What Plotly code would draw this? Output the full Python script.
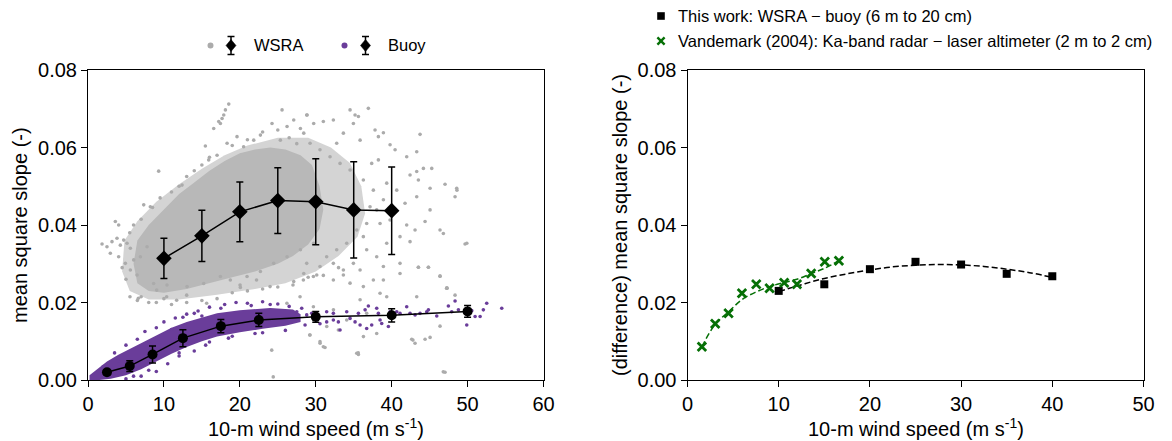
import plotly.graph_objects as go

W, H = 1172, 441
FONT = "Liberation Sans, Arial, Helvetica, sans-serif"

# ---------------- data ----------------
# WSRA scatter cloud: dense core envelope, medium-density envelope, sparse points
wsra_core_u = [6.5, 6.0, 6.5, 8.0, 10.0, 12.0, 14.0, 16.0, 18.0, 20.0, 22.0, 24.0, 26.0, 28.0, 29.5, 30.5, 31.0, 30.5, 29.0, 27.0, 25.0, 22.0, 19.0, 16.0, 13.0, 10.0, 8.0]
wsra_core_mss = [0.0250, 0.0300, 0.0360, 0.0400, 0.0440, 0.0480, 0.0510, 0.0540, 0.0565, 0.0585, 0.0595, 0.0600, 0.0595, 0.0580, 0.0555, 0.0500, 0.0440, 0.0390, 0.0350, 0.0320, 0.0300, 0.0280, 0.0265, 0.0250, 0.0235, 0.0225, 0.0230]
wsra_mid_u = [4.5, 4.8, 6.5, 9.0, 12.0, 15.0, 18.0, 21.0, 25.0, 29.0, 32.0, 34.5, 36.0, 36.5, 35.5, 33.0, 30.0, 26.0, 22.0, 17.0, 12.0, 8.0, 5.5]
wsra_mid_mss = [0.0280, 0.0360, 0.0410, 0.0460, 0.0505, 0.0545, 0.0580, 0.0605, 0.0625, 0.0625, 0.0600, 0.0560, 0.0500, 0.0430, 0.0370, 0.0320, 0.0280, 0.0250, 0.0235, 0.0220, 0.0208, 0.0208, 0.0230]
wsra_u = [36.93, 34.52, 35.18, 35.62, 28.81, 31.0, 32.32, 34.96, 33.64, 37.81, 38.91, 38.25, 43.74, 35.84, 39.79,
          40.45, 43.3, 41.98, 38.25, 37.37, 44.18, 45.28, 43.3, 42.42, 43.52, 45.06, 47.03, 48.57, 48.35, 43.3,
          41.76, 45.06, 39.79, 41.98, 43.08, 46.37, 46.81, 44.4, 49.67, 42.42, 41.1, 43.52, 44.84, 46.37, 47.25,
          36.71, 38.03, 38.91, 35.84, 33.64, 32.32, 30.56, 29.69, 28.81, 31.44, 32.76, 34.08, 35.4, 36.71, 38.03,
          38.91, 37.59, 36.27, 34.52, 33.2, 31.88, 30.56, 29.25, 32.76, 37.15, 39.35, 40.67, 41.1, 39.35, 38.47,
          36.27, 34.96, 37.59, 36.27,
          38.47, 39.35, 43.3, 46.37, 47.25, 48.35, 46.37, 42.64, 43.08, 44.4, 45.06, 38.03, 30.56, 31.22, 35.62,
          29.25, 47.03, 32.98, 35.84, 36.71, 38.91, 41.1, 43.52, 44.84, 28.37, 30.13, 32.32, 34.52, 33.64,
          24.4, 46.8, 42.8, 35.6, 31.0, 47.3, 48.6, 49.9,
          1.85, 2.5, 3.16, 3.82, 4.26, 4.7, 5.14, 5.58, 2.94, 4.04, 4.92, 6.02, 3.6, 4.04, 7.34, 8.21, 9.31, 12.39,
          15.46, 15.9, 16.56, 17.44, 17.66, 18.1, 18.54, 17.88, 17.22, 18.32, 22.71, 25.56, 24.24, 26.22, 27.98,
          28.86, 5.58, 6.46, 6.9, 7.78, 8.65, 10.41, 13.05, 15.24, 18.75, 20.95, 22.71, 24.46, 26.22, 27.98, 29.73,
          28.42, 27.1, 20.07, 17.44, 27.1, 28.42, 29.73, 21.83, 20.5, 19.63, 25.34,
          5.53, 6.63, 9.05, 10.36, 11.68, 13.0, 15.63, 20.03, 22.2, 23.98, 26.2, 27.93, 29.69, 30.57, 31.45, 32.33,
          34.08, 35.4, 36.28, 6.5, 8.0, 10.0, 24.2, 29.2,
          7.0, 8.5, 9.5, 11.0, 12.0, 13.0, 14.0, 15.0, 16.0, 17.0, 19.0, 21.0, 23.0, 25.0, 26.5, 27.5,
          7.0, 9.0, 11.0, 13.0, 15.0, 17.0, 19.0, 21.0, 23.0, 25.0, 27.0, 29.0, 31.0, 33.0,
          4.5, 5.0, 5.5, 6.0]
wsra_mss = [0.0701, 0.0697, 0.0684, 0.0680, 0.0684, 0.0667, 0.0671, 0.0662, 0.0637, 0.0645, 0.0638, 0.0628, 0.0634, 0.0619, 0.0607,
            0.0594, 0.0589, 0.0576, 0.0568, 0.0559, 0.0546, 0.0546, 0.0538, 0.0529, 0.0516, 0.0495, 0.0505, 0.0495, 0.0473, 0.0473,
            0.0456, 0.0439, 0.0413, 0.0400, 0.0387, 0.0387, 0.0378, 0.0409, 0.0351, 0.0357, 0.0301, 0.0291, 0.0291, 0.0268, 0.0237,
            0.0336, 0.0318, 0.0293, 0.0284, 0.0271, 0.0258, 0.0293, 0.0267, 0.0301, 0.0318, 0.0336, 0.0353, 0.0387, 0.0404, 0.0439,
            0.0465, 0.0490, 0.0516, 0.0542, 0.0559, 0.0576, 0.0594, 0.0611, 0.0611, 0.0447, 0.0508, 0.0490, 0.0370, 0.0353, 0.0404,
            0.0370, 0.0301, 0.0258, 0.0241,
            0.0224, 0.0215, 0.0215, 0.0268, 0.0237, 0.0219, 0.0139, 0.0105, 0.0095, 0.0105, 0.0110, 0.0120, 0.0099, 0.0084, 0.0066,
            0.0116, 0.0020, 0.0129, 0.0207, 0.0172, 0.0258, 0.0275, 0.0291, 0.0291, 0.0258, 0.0271, 0.0301, 0.0250, 0.0284,
            0.0008, 0.0021, 0.0103, 0.0070, 0.0086, 0.0237, 0.0490, 0.0353,
            0.0351, 0.0344, 0.0357, 0.0366, 0.0348, 0.0361, 0.0353, 0.0340, 0.0327, 0.0318, 0.0301, 0.0310, 0.0409, 0.0400, 0.0452, 0.0447, 0.0539, 0.0503,
            0.0604, 0.0568, 0.0649, 0.0662, 0.0675, 0.0697, 0.0712, 0.0684, 0.0667, 0.0611, 0.0632, 0.0697, 0.0662, 0.0654, 0.0649,
            0.0684, 0.0284, 0.0271, 0.0318, 0.0344, 0.0249, 0.0245, 0.0241, 0.0249, 0.0258, 0.0267, 0.0280, 0.0301, 0.0318, 0.0336, 0.0353,
            0.0275, 0.0254, 0.0239, 0.0267, 0.0671, 0.0637, 0.0662, 0.0619, 0.0602, 0.0628, 0.0619,
            0.0215, 0.0211, 0.0232, 0.0215, 0.0206, 0.0219, 0.0198, 0.0245, 0.0258, 0.0241, 0.0198, 0.0215, 0.0189, 0.0095, 0.0138, 0.0181,
            0.0155, 0.0069, 0.0112, 0.0205, 0.0200, 0.0210, 0.0077, 0.0116,
            0.0415, 0.0445, 0.0470, 0.0485, 0.0500, 0.0525, 0.0540, 0.0555, 0.0575, 0.0580, 0.0605, 0.0620, 0.0640, 0.0645, 0.0625, 0.0610,
            0.0215, 0.0200, 0.0195, 0.0200, 0.0205, 0.0210, 0.0225, 0.0230, 0.0235, 0.0240, 0.0245, 0.0265, 0.0270, 0.0290,
            0.0290, 0.0260, 0.0380, 0.0400]

# Buoy scatter cloud
buoy_core_u = [0.2, 1.0, 2.5, 4.0, 6.0, 8.5, 11.0, 13.0, 15.0, 17.0, 20.0, 24.0, 27.0, 28.0,
               28.0, 26.0, 23.0, 20.0, 17.0, 15.0, 13.0, 11.0, 9.0, 7.0, 5.0, 3.0, 1.5, 0.2]
buoy_core_mss = [0.0012, 0.0025, 0.0048, 0.0065, 0.0085, 0.0112, 0.0135, 0.0150, 0.0162, 0.0172, 0.0180, 0.0186, 0.0182, 0.0170,
                 0.0150, 0.0140, 0.0132, 0.0123, 0.0112, 0.0100, 0.0085, 0.0068, 0.0048, 0.0028, 0.0012, 0.0003, 0.0, 0.0]
buoy_u = [28.15, 28.81, 28.59, 29.47, 30.13, 30.56, 31.44, 31.44, 32.32, 32.32, 32.98, 33.2, 34.08, 34.52, 35.18, 35.62,
          35.84, 36.5, 36.71, 36.93, 37.37, 38.03, 38.25, 38.47, 38.69, 39.57, 39.79, 40.67, 41.1, 41.98, 42.42, 43.08,
          43.74, 44.62, 44.84, 45.94, 47.47, 47.91, 48.35, 48.79, 49.89, 50.55, 50.99, 51.65, 52.08, 52.52, 54.5,
          3.5, 5.0, 6.5, 7.5, 9.0, 10.0, 11.5, 13.0, 14.5, 16.0, 18.0, 19.5, 21.0, 23.0, 25.0, 26.5, 27.5, 26.0, 23.0,
          19.0, 16.0, 14.0, 12.0, 10.5, 9.0, 7.0, 5.0, 11.0, 15.0, 8.0, 4.0, 2.0,
          12.5, 14.0, 17.5, 21.5, 24.0, 22.0, 18.5, 15.5, 12.0, 8.0, 6.0]
buoy_mss = [0.0185, 0.0168, 0.0142, 0.0172, 0.0155, 0.0145, 0.0176, 0.0150, 0.0172, 0.0155, 0.0150, 0.0129, 0.0176, 0.0159, 0.0150, 0.0172,
            0.0142, 0.0181, 0.0133, 0.0191, 0.0142, 0.0185, 0.0172, 0.0155, 0.0146, 0.0138, 0.0176, 0.0176, 0.0172, 0.0189, 0.0172, 0.0168,
            0.0172, 0.0176, 0.0181, 0.0165, 0.0191, 0.0176, 0.0204, 0.0181, 0.0142, 0.0179, 0.0164, 0.0164, 0.0181, 0.0198, 0.0185,
            0.0070, 0.0090, 0.0105, 0.0125, 0.0135, 0.0150, 0.0160, 0.0170, 0.0178, 0.0188, 0.0195, 0.0200, 0.0198, 0.0202, 0.0196, 0.0190, 0.0176, 0.0128, 0.0122,
            0.0113, 0.0098, 0.0075, 0.0062, 0.0042, 0.0022, 0.0010, 0.0003, 0.0130, 0.0165, 0.0095, 0.0050, 0.0035,
            0.0162, 0.0172, 0.0185, 0.0192, 0.0195, 0.0120, 0.0108, 0.0090, 0.0070, 0.0025, 0.0010]

# Binned means with standard deviation
wsra_bin_u = [10, 15, 20, 25, 30, 35, 40]
wsra_bin_mss = [0.0314, 0.0372, 0.0434, 0.0463, 0.0460, 0.0439, 0.0437]
wsra_bin_std = [0.0052, 0.0066, 0.0077, 0.0085, 0.0111, 0.0124, 0.0113]
buoy_bin_u = [2.5, 5.5, 8.5, 12.5, 17.5, 22.5, 30, 40, 50]
buoy_bin_mss = [0.0020, 0.0036, 0.0066, 0.0108, 0.0139, 0.0155, 0.0163, 0.0167, 0.0177]
buoy_bin_std = [0.0006, 0.0014, 0.0022, 0.0022, 0.0017, 0.0017, 0.0014, 0.0017, 0.0015]

# Right panel: difference
diff_u = [10, 15, 20, 25, 30, 35, 40]
diff_mss = [0.0230, 0.0247, 0.0286, 0.0305, 0.0298, 0.0274, 0.0268]
diff_fit_u = [10, 12.5, 15, 17.5, 20, 22.5, 25, 27.5, 30, 32.5, 35, 37.5, 40]
diff_fit_mss = [0.0228, 0.0246, 0.0262, 0.0274, 0.0284, 0.0292, 0.0296, 0.0298, 0.0297, 0.0293, 0.0286, 0.0277, 0.0265]
vand_u = [1.58, 3.04, 4.5, 5.97, 7.54, 9.0, 10.6, 12.0, 13.56, 15.05, 16.6]
vand_mss = [0.0086, 0.0145, 0.0172, 0.0224, 0.0247, 0.0237, 0.0251, 0.0247, 0.0275, 0.0305, 0.0308]
vand_fit_u = [1.58, 3.04, 4.5, 6.0, 7.5, 9.0, 10.5, 12.0, 13.5, 15.0, 16.6]
vand_fit_mss = [0.0086, 0.0144, 0.0176, 0.0208, 0.0227, 0.0241, 0.0251, 0.0260, 0.0274, 0.0288, 0.0308]

y_ticks = [0.0, 0.02, 0.04, 0.06, 0.08]
y_ticktext = ["0.00", "0.02", "0.04", "0.06", "0.08"]
x_ticks_left = [0, 10, 20, 30, 40, 50, 60]
x_ticks_right = [0, 10, 20, 30, 40, 50]

GRAY = "#ababab"
PURPLE = "#6a3d9a"
GREEN = "#067006"

# ---------------- figure ----------------
fig = go.Figure()
L = dict(xaxis="x", yaxis="y", hoverinfo="skip", showlegend=False)
R = dict(xaxis="x2", yaxis="y2", hoverinfo="skip", showlegend=False)

fig.add_trace(go.Scatter(x=wsra_mid_u, y=wsra_mid_mss, mode="lines", fill="toself",
                         fillcolor="#d4d4d4", line=dict(width=0), **L))
fig.add_trace(go.Scatter(x=wsra_core_u, y=wsra_core_mss, mode="lines", fill="toself",
                         fillcolor="#b8b8b8", line=dict(width=0), **L))
fig.add_trace(go.Scatter(x=wsra_u, y=wsra_mss, mode="markers",
                         marker=dict(size=3.6, color=GRAY), **L))
fig.add_trace(go.Scatter(x=buoy_core_u, y=buoy_core_mss, mode="lines", fill="toself",
                         fillcolor=PURPLE, line=dict(width=0), **L))
fig.add_trace(go.Scatter(x=buoy_u, y=buoy_mss, mode="markers",
                         marker=dict(size=3.6, color=PURPLE), **L))
fig.add_trace(go.Scatter(x=wsra_bin_u, y=wsra_bin_mss, mode="lines+markers",
                         line=dict(color="black", width=1.5),
                         marker=dict(symbol="diamond", size=12, color="black"),
                         error_y=dict(type="data", array=wsra_bin_std, color="black", thickness=1.5, width=3.5),
                         **L))
fig.add_trace(go.Scatter(x=buoy_bin_u, y=buoy_bin_mss, mode="lines+markers",
                         line=dict(color="black", width=1.5),
                         marker=dict(symbol="circle", size=10, color="black"),
                         error_y=dict(type="data", array=buoy_bin_std, color="black", thickness=1.5, width=3.5),
                         **L))

fig.add_trace(go.Scatter(x=diff_fit_u, y=diff_fit_mss, mode="lines", line_shape="spline",
                         line=dict(color="black", width=1.5, dash="6px,3px"), **R))
fig.add_trace(go.Scatter(x=diff_u, y=diff_mss, mode="markers",
                         marker=dict(symbol="square", size=8, color="black"), **R))
fig.add_trace(go.Scatter(x=vand_fit_u, y=vand_fit_mss, mode="lines", line_shape="spline",
                         line=dict(color=GREEN, width=1.5, dash="6px,3px"), **R))
fig.add_trace(go.Scatter(x=vand_u, y=vand_mss, mode="markers",
                         marker=dict(symbol="x-thin", size=8.5, color=GREEN,
                                     line=dict(color=GREEN, width=2.8)), **R))

axis_common = dict(showline=True, linecolor="black", linewidth=1, mirror=True,
                   ticks="outside", ticklen=6, tickwidth=1, tickcolor="black",
                   showgrid=False, zeroline=False, automargin=False,
                   tickfont=dict(family=FONT, size=20, color="black"))

ydom = [61 / H, 371 / H]
fig.update_layout(
    width=W, height=H, margin=dict(l=0, r=0, t=0, b=0),
    paper_bgcolor="white", plot_bgcolor="white", showlegend=False,
    xaxis=dict(domain=[88 / W, 543.5 / W], range=[0, 60], tickvals=x_ticks_left, **axis_common),
    yaxis=dict(domain=ydom, range=[0, 0.08], tickvals=y_ticks, ticktext=y_ticktext, **axis_common),
    xaxis2=dict(domain=[687.5 / W, 1143.5 / W], range=[0, 50], tickvals=x_ticks_right, anchor="y2", **axis_common),
    yaxis2=dict(domain=ydom, range=[0, 0.08], tickvals=y_ticks, ticktext=y_ticktext, anchor="x2", **axis_common),
)


def px(x):
    return x / W


def py(y):
    return 1 - y / H


ann = []
shapes = []
tf = dict(family=FONT, size=20, color="black")
lf = dict(family=FONT, size=16.5, color="black")

# axis titles
ann.append(dict(text="10-m wind speed (m s<sup>-1</sup>)", x=px(315.7), y=py(427), xref="paper", yref="paper",
                xanchor="center", yanchor="middle", showarrow=False, font=tf))
ann.append(dict(text="10-m wind speed (m s<sup>-1</sup>)", x=px(915.5), y=py(427), xref="paper", yref="paper",
                xanchor="center", yanchor="middle", showarrow=False, font=tf))
ann.append(dict(text="mean square slope (-)", x=px(20), y=py(225), xref="paper", yref="paper", textangle=-90,
                xanchor="center", yanchor="middle", showarrow=False, font=tf))
ann.append(dict(text="(difference) mean square slope (-)", x=px(620), y=py(225), xref="paper", yref="paper",
                textangle=-90, xanchor="center", yanchor="middle", showarrow=False, font=tf))


# left legend glyphs
def legend_item(dot_x, dia_x, cy, dot_color, label, text_x):
    r = 3
    shapes.append(dict(type="circle", xref="paper", yref="paper", x0=px(dot_x - r), x1=px(dot_x + r),
                       y0=py(cy + r), y1=py(cy - r), fillcolor=dot_color, line=dict(width=0)))
    shapes.append(dict(type="line", xref="paper", yref="paper", x0=px(dia_x), x1=px(dia_x),
                       y0=py(cy - 9), y1=py(cy + 9), line=dict(color="black", width=1.5)))
    for dy in (-9, 9):
        shapes.append(dict(type="line", xref="paper", yref="paper", x0=px(dia_x - 3.5), x1=px(dia_x + 3.5),
                           y0=py(cy + dy), y1=py(cy + dy), line=dict(color="black", width=1.5)))
    hw, hh = 5, 6
    path = "M{},{} L{},{} L{},{} L{},{} Z".format(px(dia_x), py(cy - hh), px(dia_x + hw), py(cy),
                                                  px(dia_x), py(cy + hh), px(dia_x - hw), py(cy))
    shapes.append(dict(type="path", xref="paper", yref="paper", path=path, fillcolor="black",
                       line=dict(color="black", width=0.5)))
    ann.append(dict(text=label, x=px(text_x), y=py(cy), xref="paper", yref="paper", xanchor="left",
                    yanchor="middle", showarrow=False, font=lf))


legend_item(210.5, 231, 45.5, GRAY, "WSRA", 252)
legend_item(344.5, 365.5, 45.5, PURPLE, "Buoy", 386)

# right legend glyphs
sq = 3.8
shapes.append(dict(type="rect", xref="paper", yref="paper", x0=px(661 - sq), x1=px(661 + sq),
                   y0=py(16 + sq), y1=py(16 - sq), fillcolor="black", line=dict(width=0)))
xs = 3.6
for a, b in ((-1, 1), (1, -1)):
    shapes.append(dict(type="line", xref="paper", yref="paper", x0=px(661 - xs), x1=px(661 + xs),
                       y0=py(41 + a * xs), y1=py(41 + b * xs), line=dict(color=GREEN, width=2.4)))
ann.append(dict(text="This work: WSRA \u2212 buoy (6 m to 20 cm)", x=px(676), y=py(16), xref="paper", yref="paper",
                xanchor="left", yanchor="middle", showarrow=False, font=lf))
ann.append(dict(text="Vandemark (2004): Ka-band radar \u2212 laser altimeter (2 m to 2 cm)", x=px(676), y=py(41),
                xref="paper", yref="paper", xanchor="left", yanchor="middle", showarrow=False, font=lf))

fig.update_layout(annotations=ann, shapes=shapes)
fig.write_html("out.html")
